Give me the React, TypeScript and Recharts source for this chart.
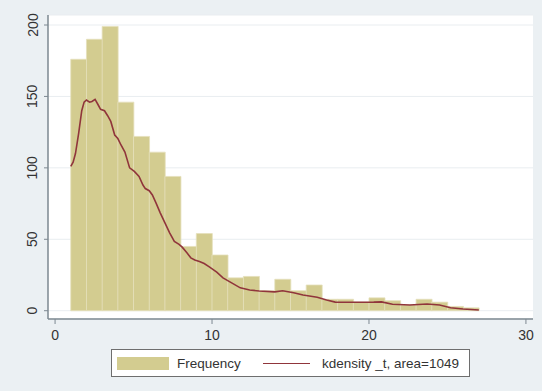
import React from 'react';
import { ComposedChart, Bar, Line, XAxis, YAxis, CartesianGrid } from 'recharts';

// Histogram bins (start of each bin, width 1) and frequencies
const binStarts = [1, 2, 3, 4, 5, 6, 7, 8, 9, 10, 11, 12, 13, 14, 15, 16, 17, 18, 19, 20, 21, 22, 23, 24, 25, 26];
const frequency = [176, 190, 199, 146, 122, 111, 94, 45, 54, 39, 23, 24, 14, 22, 14, 18, 8, 8, 6, 9, 7, 4, 8, 6, 3, 2];
const BIN_WIDTH = 1;

// Kernel density curve (scaled to frequency)
const kdeX = [1.0, 1.15, 1.3, 1.5, 1.7, 1.85, 2.0, 2.2, 2.35, 2.55, 2.75, 2.9, 3.15, 3.35, 3.55, 3.8, 4.0, 4.2, 4.45, 4.75, 5.05, 5.35, 5.6, 5.75, 6.0, 6.2, 6.45, 6.7, 7.0, 7.3, 7.6, 7.9, 8.1, 8.4, 8.65, 8.9, 9.2, 9.5, 9.85, 10.3, 10.7, 11.25, 11.8, 12.4, 13.0, 14.0, 14.5, 15.2, 15.8, 16.7, 17.3, 17.85, 19.0, 20.3, 20.8, 21.5, 22.6, 23.7, 24.5, 25.2, 26.0, 27.0];
const kdeY = [101, 104, 110, 124, 140, 146, 147.5, 146, 146.5, 148, 144, 141, 140, 136.5, 132.5, 123, 120.5, 116, 111, 100, 97.5, 94, 88, 85.5, 84, 81, 75, 68.5, 61.5, 54.5, 48.5, 46.5, 44.5, 40.5, 37, 35.5, 34.5, 33, 30.5, 27, 23, 19.5, 16, 14.5, 13.8, 13.2, 14, 12.6, 11, 9.4, 7.5, 6, 5.9, 6, 6.2, 4.5, 4, 4.7, 4, 2.1, 1.2, 0.5];

const xTicks = [0, 10, 20, 30];
const yTicks = [0, 50, 100, 150, 200];
const seriesNames = ['Frequency', 'kdensity _t, area=1049'];

const histData = binStarts.map((s, i) => ({ mid: s + BIN_WIDTH / 2, freq: frequency[i] }));
const kdeData = kdeX.map((x, i) => ({ x, dens: kdeY[i] }));

const BAR_COLOR = '#d3cc90';
const BAR_EDGE = '#e4e0bb';
const LINE_COLOR = '#90353b';
const AXIS_COLOR = '#7d8891';
const TEXT_COLOR = '#333333';
const FONT = '"Liberation Sans", Arial, Helvetica, sans-serif';
const X_DOMAIN: [number, number] = [-0.45, 30.45];
const Y_DOMAIN: [number, number] = [-5.8, 207];

const YTick = (props: any) => {
  const { x, y, payload } = props;
  const bx = x - 4.5;
  return (
    <text
      x={bx}
      y={y}
      transform={`rotate(-90 ${bx} ${y})`}
      textAnchor="middle"
      fontSize={14}
      fontFamily={FONT}
      fill={TEXT_COLOR}
    >
      {payload.value}
    </text>
  );
};

const LegendBox = () => (
  <svg width={542} height={391} style={{ position: 'absolute', left: 0, top: 0, pointerEvents: 'none' }}>
    <rect x={111.5} y={349.5} width={358} height={27} fill="#ffffff" stroke="#6e6e6e" strokeWidth={1} />
    <rect x={117} y={357} width={52} height={13} fill={BAR_COLOR} />
    <text x={177} y={368} fontSize={13.5} fontFamily={FONT} fill={TEXT_COLOR}>
      {seriesNames[0]}
    </text>
    <line x1={263} y1={363.5} x2={310} y2={363.5} stroke={LINE_COLOR} strokeWidth={1.2} />
    <text x={322} y={368} fontSize={13.5} fontFamily={FONT} fill={TEXT_COLOR}>
      {seriesNames[1]}
    </text>
  </svg>
);

export default function App() {
  return (
    <div style={{ position: 'relative', width: 542, height: 391, background: '#ebf0f3' }}>
      <style>{`body{margin:0}`}</style>
      <ComposedChart
        width={542}
        height={391}
        data={histData}
        margin={{ top: 15, right: 9, bottom: 42, left: 0 }}
        barCategoryGap={0}
        barGap={0}
      >
        <CartesianGrid vertical={false} stroke="#e9edf0" fill="#ffffff" />
        <XAxis
          dataKey="mid"
          type="number"
          domain={X_DOMAIN}
          allowDataOverflow
          ticks={xTicks}
          height={30}
          tickSize={5}
          tickMargin={6}
          axisLine={{ stroke: AXIS_COLOR, strokeWidth: 1.5 }}
          tickLine={{ stroke: AXIS_COLOR, strokeWidth: 1 }}
          tick={{ fontSize: 14, fontFamily: FONT, fill: TEXT_COLOR }}
        />
        <XAxis xAxisId="kde" dataKey="x" type="number" domain={X_DOMAIN} allowDataOverflow hide />
        <YAxis
          type="number"
          domain={Y_DOMAIN}
          allowDataOverflow
          ticks={yTicks}
          width={48}
          tickSize={4}
          tickMargin={2}
          axisLine={{ stroke: AXIS_COLOR, strokeWidth: 1.5 }}
          tickLine={{ stroke: AXIS_COLOR, strokeWidth: 1 }}
          tick={<YTick />}
        />
        <Bar dataKey="freq" fill={BAR_COLOR} stroke={BAR_EDGE} strokeWidth={0.8} isAnimationActive={false} />
        <Line
          xAxisId="kde"
          data={kdeData}
          dataKey="dens"
          type="linear"
          stroke={LINE_COLOR}
          strokeWidth={1.6}
          dot={false}
          activeDot={false}
          isAnimationActive={false}
        />
      </ComposedChart>
      <LegendBox />
    </div>
  );
}
